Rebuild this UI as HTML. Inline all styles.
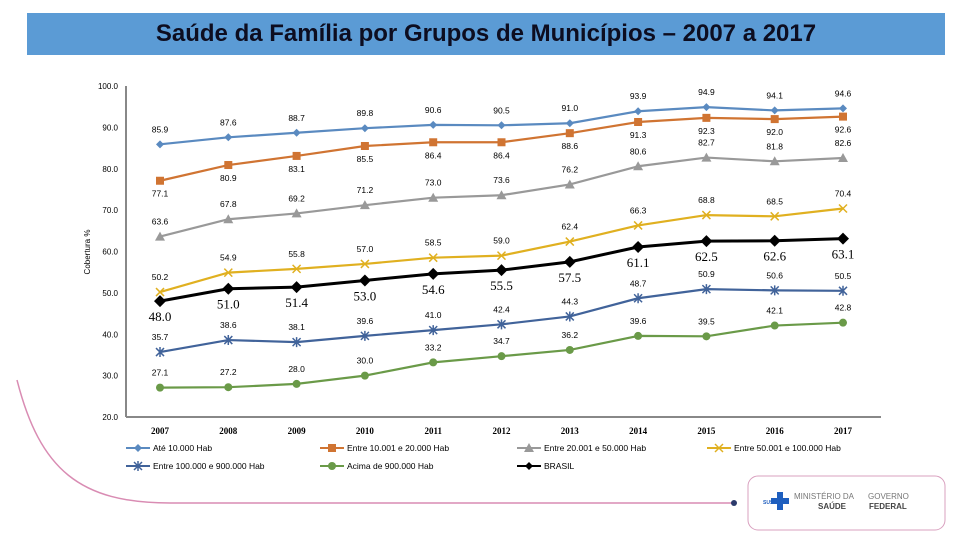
<!DOCTYPE html>
<html><head><meta charset="utf-8">
<style>
body{margin:0;width:960px;height:540px;background:#fff;overflow:hidden;font-family:"Liberation Sans",sans-serif;}
#title{position:absolute;left:27px;top:13px;width:918px;height:42px;background:#5b9bd5;color:#0d0d20;font-weight:bold;font-size:24px;text-align:center;line-height:42px;}
svg{position:absolute;left:0;top:0;}
</style></head><body>
<div id="title"><span style="position:relative;left:0px">Saúde da Família por Grupos de Municípios – 2007 a 2017</span></div>
<svg id="c" width="960" height="540"></svg>
<script>
const years=["2007","2008","2009","2010","2011","2012","2013","2014","2015","2016","2017"];
const yTicks=[20,30,40,50,60,70,80,90,100];
const sAte10=[85.9,87.6,88.7,89.8,90.6,90.5,91.0,93.9,94.9,94.1,94.6];
const s10a20=[77.1,80.9,83.1,85.5,86.4,86.4,88.6,91.3,92.3,92.0,92.6];
const s20a50=[63.6,67.8,69.2,71.2,73.0,73.6,76.2,80.6,82.7,81.8,82.6];
const s50a100=[50.2,54.9,55.8,57.0,58.5,59.0,62.4,66.3,68.8,68.5,70.4];
const s100a900=[35.7,38.6,38.1,39.6,41.0,42.4,44.3,48.7,50.9,50.6,50.5];
const sAcima900=[27.1,27.2,28.0,30.0,33.2,34.7,36.2,39.6,39.5,42.1,42.8];
const sBrasil=[48.0,51.0,51.4,53.0,54.6,55.5,57.5,61.1,62.5,62.6,63.1];
const seriesNames=["Até 10.000 Hab","Entre 10.001 e 20.000 Hab","Entre 20.001 e 50.000 Hab","Entre 50.001 e 100.000 Hab","Entre 100.000 e 900.000 Hab","Acima de 900.000 Hab","BRASIL"];

const NS="http://www.w3.org/2000/svg";
const svg=document.getElementById('c');
const X=i=>160+i*68.3;
const Y=v=>417-(v-20)*4.1375;
function el(t,a,p){const e=document.createElementNS(NS,t);for(const k in a)e.setAttribute(k,a[k]);(p||svg).appendChild(e);return e;}
function txt(x,y,s,a,p){const t=el('text',Object.assign({x:x,y:y},a),p);t.textContent=s;return t;}

const deco=el('path',{d:"M17 380 C40 470,80 503,170 503 L733 503",fill:"none",stroke:"#d98cb3","stroke-width":1.5});


el('circle',{cx:734,cy:503,r:3,fill:"#2b3a6b"});
const logo=el('g',{});


el('rect',{x:748,y:476,width:197,height:54,rx:10,fill:"#fff",stroke:"#d9a0bf","stroke-width":1},logo);
el('rect',{x:777,y:492,width:6,height:18,fill:"#1f5fbf"},logo);
el('rect',{x:771,y:498,width:18,height:6,fill:"#1f5fbf"},logo);
txt(763,504,"SUS",{"font-size":5,fill:"#1f5fbf","font-weight":"bold"},logo);
txt(794,499,"MINISTÉRIO DA",{"font-size":8,fill:"#777"},logo);
txt(818,509,"SAÚDE",{"font-size":8,fill:"#444","font-weight":"bold"},logo);
txt(868,499,"GOVERNO",{"font-size":8,fill:"#777"},logo);
txt(869,509,"FEDERAL",{"font-size":8,fill:"#444","font-weight":"bold"},logo);

const yax=el('line',{x1:126,y1:86,x2:126,y2:417,stroke:"#888","stroke-width":2});


const xax=el('line',{x1:126,y1:417,x2:881,y2:417,stroke:"#888","stroke-width":2});


yTicks.forEach(v=>{
  const t=txt(118,Y(v)+3,v.toFixed(1),{"font-size":8,"text-anchor":"end",fill:"#000"});
  
  
});
const yt=txt(0,0,"Cobertura %",{"font-size":8,transform:"translate(90,252) rotate(-90)","text-anchor":"middle"});


years.forEach((y,i)=>{
  const t=txt(X(i),434,y,{"font-size":9,"font-weight":"bold","font-family":"Liberation Serif,serif","text-anchor":"middle"});
  
  
});

const seriesData=[sAte10,s10a20,s20a50,s50a100,s100a900,sAcima900,sBrasil];
const colors=["#5a8ac0","#d07432","#999999","#e0b020","#41639a","#6a9a48","#000000"];
const markers=["diamond","square","triangle","x","star","circle","bigdiamond"];
const labOff=[-12,16,-12,-12,-12,-12,20];
function marker(g,m,x,y,c){
  if(m=="diamond")el('path',{d:`M${x} ${y-4}L${x+4} ${y}L${x} ${y+4}L${x-4} ${y}Z`,fill:c},g);
  else if(m=="bigdiamond")el('path',{d:`M${x} ${y-6}L${x+6} ${y}L${x} ${y+6}L${x-6} ${y}Z`,fill:c},g);
  else if(m=="square")el('rect',{x:x-4,y:y-4,width:8,height:8,fill:c},g);
  else if(m=="triangle")el('path',{d:`M${x} ${y-5}L${x+5} ${y+4}L${x-5} ${y+4}Z`,fill:c},g);
  else if(m=="circle")el('circle',{cx:x,cy:y,r:4,fill:c},g);
  else if(m=="x")el('path',{d:`M${x-4} ${y-4}L${x+4} ${y+4}M${x+4} ${y-4}L${x-4} ${y+4}`,stroke:c,"stroke-width":1.5},g);
  else el('path',{d:`M${x-4} ${y-4}L${x+4} ${y+4}M${x+4} ${y-4}L${x-4} ${y+4}M${x} ${y-5}L${x} ${y+5}`,stroke:c,"stroke-width":1.5},g);
}
seriesData.forEach((d,s)=>{
  const g=el('g',{});
  
  
  const p=el('polyline',{points:d.map((v,i)=>X(i)+","+Y(v)).join(" "),fill:"none",stroke:colors[s],"stroke-width":s==6?3:2.2},g);
  
  
  d.forEach((v,i)=>{
    marker(g,markers[s],X(i),Y(v),colors[s]);
    const big=s==6;
    const t=txt(X(i),Y(v)+labOff[s],v.toFixed(1),{"font-size":big?13:8.5,"text-anchor":"middle",fill:"#000","font-family":big?"Liberation Serif,serif":"Liberation Sans,sans-serif"},g);
    
    
  });
});

const legPos=[[136,448],[330,448],[527,448],[717,448],[136,466],[330,466],[527,466]];
seriesNames.forEach((n,s)=>{
  const g=el('g',{});
  
  
  const [x,y]=legPos[s];
  el('line',{x1:x-10,y1:y,x2:x+14,y2:y,stroke:colors[s],"stroke-width":2},g);
  marker(g,markers[s]=="bigdiamond"?"diamond":markers[s],x+2,y,colors[s]);
  txt(x+17,y+3,n,{"font-size":8.5,fill:"#000"},g);
});
</script>
</body></html>
